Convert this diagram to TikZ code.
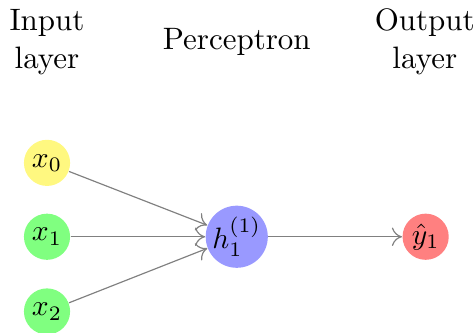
\documentclass[tikz,border=0pt]{standalone}
\usepackage{amsmath,amssymb}
\usetikzlibrary{arrows.meta}
\tikzset{
  >={To[length=1.2mm,width=2.2mm]},
  nrn/.style={circle,inner sep=0pt,minimum size=5.5mm},
  hid/.style={circle,inner sep=0pt,minimum size=7.4mm,fill=blue!40},
  hdr/.style={align=center,font=\fontsize{10.5}{12.8}\selectfont},
  cn/.style={->,draw=gray,line width=0.4pt},
}

\begin{document}
\begin{tikzpicture}
\useasboundingbox (0,0) rectangle (5.67,-3.96);
\node[hdr] (tin) at (0.56,-0.5){Input\\layer}; \node[hdr] (thid) at (2.82,-0.5){Perceptron};
\node[hdr] (tout) at (5.06,-0.5){Output\\layer};
\node[nrn,fill=yellow!50] (x0) at (0.56,-1.94){$x_0$}; \node[nrn,fill=green!50] (x1) at (0.56,-2.82){$x_1$};
\node[nrn,fill=green!50] (x2) at (0.56,-3.71){$x_2$};
\node[hid] (h1) at (2.82,-2.82){$h_1^{(1)}$}; \node[nrn,fill=red!50] (y1) at (5.07,-2.82){$\hat{y}_1$};
\draw[cn] (x0)--(h1); \draw[cn] (x1)--(h1); \draw[cn] (x2)--(h1);
\draw[cn] (h1)--(y1);
\end{tikzpicture}
\end{document}
